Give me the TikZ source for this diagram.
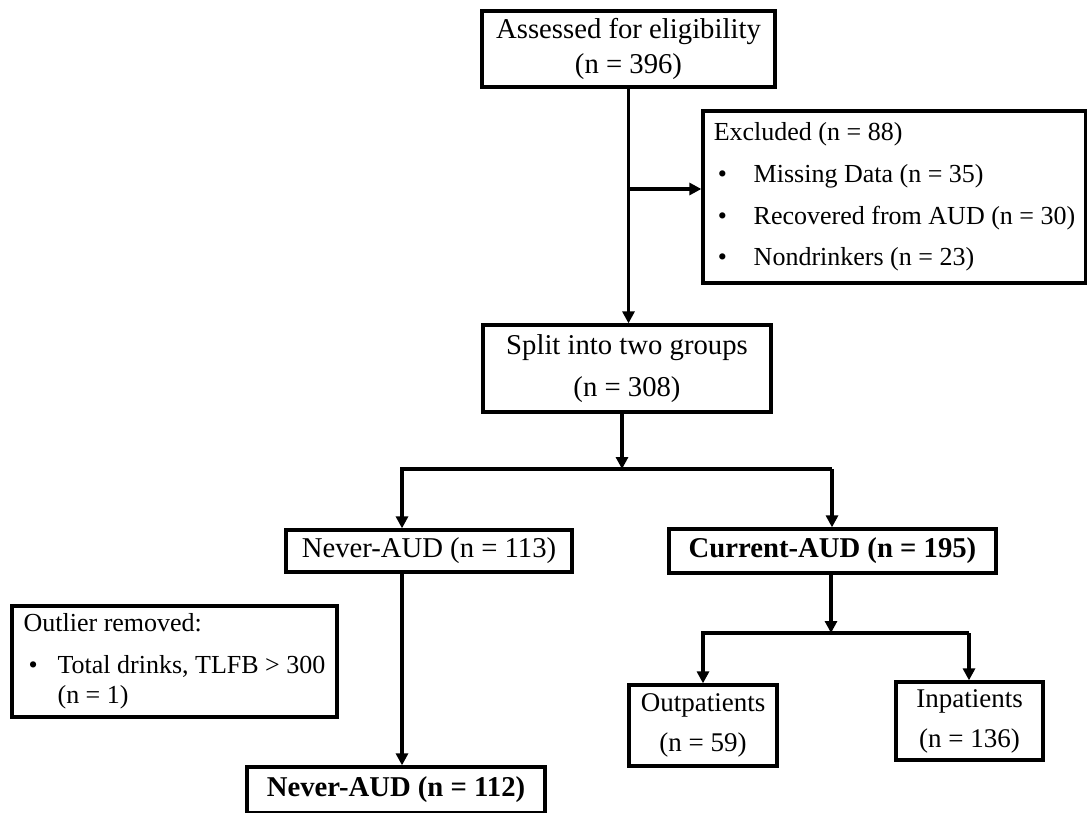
\documentclass[tikz,border=0pt]{standalone}
\usepackage{fontspec}
\setmainfont{Liberation Serif}
\usetikzlibrary{arrows.meta}
\begin{document}
\begin{tikzpicture}[x=1pt,y=-1pt,
  box/.style={draw, line width=3.3pt, inner sep=0pt, align=center},
  big/.style={font=\fontsize{28.7}{42}\selectfont},
  small/.style={font=\fontsize{26}{41.6}\selectfont},
  mid/.style={font=\fontsize{27}{40}\selectfont},
  arr/.style={line width=3.3pt, line join=miter, -{Triangle[length=12pt,width=12pt]}},
  ln/.style={line width=3.3pt}
]
\useasboundingbox (0,0) rectangle (1087,813);

\node[box, font=\fontsize{28.7}{35}\selectfont, minimum width=293pt, minimum height=76pt] (top) at (628.5,49)
  {Assessed for eligibility\\(n = 396)};
\node[box, small, align=left, minimum width=383pt, minimum height=172pt] (excl) at (894.5,197)
  {Excluded (n = 88)\\
   \hspace*{4pt}\makebox[36pt][l]{\textbullet}Missing Data (n = 35)\\
   \hspace*{4pt}\makebox[36pt][l]{\textbullet}Recovered from AUD (n = 30)\\
   \hspace*{4pt}\makebox[36pt][l]{\textbullet}Nondrinkers (n = 23)};
\node[box, big, minimum width=288pt, minimum height=87pt] (split) at (627,368.5)
  {Split into two groups\\(n = 308)};
\node[box, big, minimum width=286pt, minimum height=42pt] (never1) at (429,551)
  {Never-AUD (n = 113)};
\node[box, big, minimum width=327pt, minimum height=44pt] (curr) at (832.5,551)
  {\bfseries Current-AUD (n = 195)};
\node[box, align=left, font=\fontsize{26}{30}\selectfont, minimum width=325pt, minimum height=111pt] (outl) at (174.5,661.5)
  {Outlier removed:\\[12pt]
   \hspace*{5pt}\makebox[29pt][l]{\textbullet}Total drinks, TLFB > 300\\
   \hspace*{34pt}(n = 1)};
\node[box, big, minimum width=298pt, minimum height=46pt] (never2) at (396,790)
  {\bfseries Never-AUD (n = 112)};
\node[box, mid, minimum width=148pt, minimum height=81pt] (outp) at (703,725.5)
  {Outpatients\\(n = 59)};
\node[box, mid, minimum width=147pt, minimum height=78pt] (inp) at (969.5,721)
  {Inpatients\\(n = 136)};

% connectors
\draw[arr] (top.south) -- (top.south |- split.north);
\coordinate (jx) at (628.5,189);
\draw[arr] (jx) -- (jx -| excl.west);

\coordinate (b1) at (622,469);
\draw[arr] (b1 |- split.south) -- (b1);
\coordinate (bl) at (402,469);
\coordinate (br) at (832,469);
\draw[arr] (br) -- (bl) -- (bl |- never1.north);
\draw[arr] (br) -- (br |- curr.north);
\draw[arr] (bl |- never1.south) -- (bl |- never2.north);

\coordinate (c1) at (831,633);
\draw[arr] (c1 |- curr.south) -- (c1);
\coordinate (cl) at (703,633);
\coordinate (cr) at (969,633);
\draw[arr] (cr) -- (cl) -- (cl |- outp.north);
\draw[arr] (cr) -- (cr |- inp.north);
\end{tikzpicture}
\end{document}
